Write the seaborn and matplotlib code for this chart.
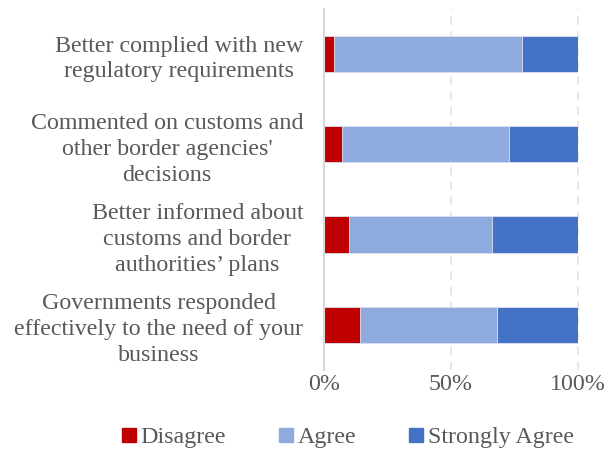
import matplotlib
matplotlib.use("Agg")
import matplotlib.pyplot as plt
from matplotlib.lines import Line2D
import seaborn as sns
import pandas as pd
import numpy as np

categories = [
    "Better complied with new\nregulatory requirements",
    "Commented on customs and\nother border agencies'\ndecisions",
    "Better informed about\ncustoms and border\nauthorities\u2019 plans",
    "Governments responded\neffectively to the need of your\nbusiness",
]
disagree = [4, 7, 10, 14]
agree = [74, 66, 56, 54]
strongly_agree = [22, 27, 34, 32]
series_names = ["Disagree", "Agree", "Strongly Agree"]
tick_values = [0, 50, 100]
tick_labels = ["0%", "50%", "100%"]

colors = {"Disagree": "#C00000", "Agree": "#8FAADC", "Strongly Agree": "#4472C4"}
text_color = "#595959"
fs = 17.3

sns.set_theme(style="white")
plt.rcParams["font.family"] = ["Liberation Serif", "DejaVu Serif"]

df = pd.DataFrame({
    "category": categories,
    "Disagree": disagree,
    "Agree": agree,
    "Strongly Agree": strongly_agree,
})
df["cum_d"] = df["Disagree"]
df["cum_a"] = df["Disagree"] + df["Agree"]
df["cum_s"] = df["cum_a"] + df["Strongly Agree"]

fig = plt.figure(figsize=(6.12, 4.51), dpi=100)
ax = fig.add_axes([0.5294, 0.180, 0.4150, 0.800])

# stacked bars drawn as overlapping cumulative totals
for col, name in [("cum_s", "Strongly Agree"), ("cum_a", "Agree"), ("cum_d", "Disagree")]:
    sns.barplot(data=df, x=col, y="category", order=categories, orient="h",
                color=colors[name], saturation=1, width=0.4, ax=ax,
                edgecolor="#DDE4F2", linewidth=0.6)

ax.set_xlim(0, 100)
ax.set_ylim(3.5, -0.5)
ax.set_xlabel("")
ax.set_ylabel("")

for v in tick_values[1:]:
    ax.axvline(v, color="#E3E3E3", linestyle=(0, (5, 4)), linewidth=1.2,
               zorder=0, clip_on=False)

for side in ["top", "right", "bottom"]:
    ax.spines[side].set_visible(False)
ax.spines["left"].set_color("#D9D9D9")
ax.spines["left"].set_linewidth(1.5)

ax.set_xticks(tick_values)
ax.set_xticklabels(tick_labels)
ax.tick_params(axis="x", length=0, pad=3, labelsize=fs, labelcolor=text_color)
ax.tick_params(axis="y", length=0, pad=15, labelsize=fs, labelcolor=text_color)
for lbl in ax.get_yticklabels():
    lbl.set_multialignment("center")
    lbl.set_linespacing(1.3)

handles = [Line2D([0], [0], marker="s", linestyle="none", markersize=10,
                  markerfacecolor=colors[n], markeredgecolor=colors[n], label=n)
           for n in series_names]
fig.legend(handles=handles, loc="center", bbox_to_anchor=(0.566, 0.031), ncol=3,
           frameon=False, fontsize=fs, labelcolor=text_color,
           handletextpad=0.08, columnspacing=2.1, handlelength=0.8)

fig.savefig("out.png", dpi=100)
